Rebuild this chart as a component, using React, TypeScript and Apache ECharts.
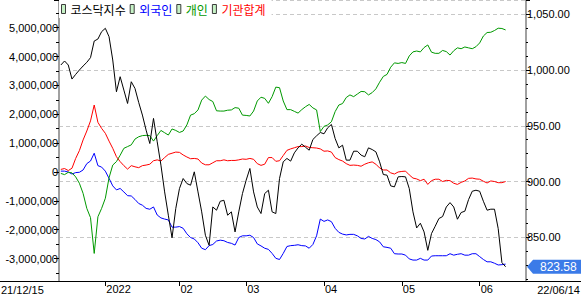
import React, { useEffect, useRef } from "react";
import * as echarts from "echarts";

// Trading days (KRX) from 2021-12-15 to 2022-06-14
const DEC_2021 = [15, 16, 17, 20, 21, 22, 23, 24, 27, 28, 29, 30];
const JAN_2022 = [3, 4, 5, 6, 7, 10, 11, 12, 13, 14, 17, 18, 19, 20, 21, 24, 25, 26, 27, 28];
const FEB_2022 = [3, 4, 7, 8, 9, 10, 11, 14, 15, 16, 17, 18, 21, 22, 23, 24, 25, 28];
const MAR_2022 = [2, 3, 4, 7, 8, 10, 11, 14, 15, 16, 17, 18, 21, 22, 23, 24, 25, 28, 29, 30, 31];
const APR_2022 = [1, 4, 5, 6, 7, 8, 11, 12, 13, 14, 15, 18, 19, 20, 21, 22, 25, 26, 27, 28, 29];
const MAY_2022 = [2, 3, 4, 6, 9, 10, 11, 12, 13, 16, 17, 18, 19, 20, 23, 24, 25, 26, 27, 30, 31];
const JUN_2022 = [2, 3, 7, 8, 9, 10, 13, 14];

const two = (n: number) => String(n).padStart(2, "0");
const dates: string[] = [
  ...DEC_2021.map((d) => `21/12/${two(d)}`),
  ...JAN_2022.map((d) => `22/01/${two(d)}`),
  ...FEB_2022.map((d) => `22/02/${two(d)}`),
  ...MAR_2022.map((d) => `22/03/${two(d)}`),
  ...APR_2022.map((d) => `22/04/${two(d)}`),
  ...MAY_2022.map((d) => `22/05/${two(d)}`),
  ...JUN_2022.map((d) => `22/06/${two(d)}`),
];

// Month tick labels on the time axis
const monthTickDates = ["22/01/03", "22/02/03", "22/03/02", "22/04/01", "22/05/02", "22/06/02"];
const monthTickLabels = ["2022", "02", "03", "04", "05", "06"];

// Legend / series names
const NAME_KOSDAQ = "코스닥지수";
const NAME_FOREIGN = "외국인";
const NAME_INDIVIDUAL = "개인";
const NAME_INSTITUTION = "기관합계";

// KOSDAQ index (right axis)
const kosdaq = [
  1004.5, 1008.1, 1004.5, 991.9, 996.1, 1000.0, 1003.6, 1006.9, 1011.1, 1026.0,
  1027.8, 1034.4, 1037.4, 1029.9, 1009.0, 980.5, 994.0, 982.0, 970.0, 989.5,
  983.5, 971.0, 959.6, 946.1, 934.1, 956.6, 935.6, 914.7, 890.7, 869.8,
  849.6, 875.7, 893.7, 902.7, 898.2, 896.7, 908.7, 890.7, 872.8, 851.8,
  842.8, 877.2, 874.3, 882.3, 883.2, 869.8, 872.8, 854.8, 872.8, 889.2,
  901.2, 911.7, 890.7, 877.2, 871.3, 889.2, 892.2, 872.8, 871.3, 902.7,
  917.7, 920.7, 918.3, 925.7, 930.2, 933.5, 930.8, 928.1, 937.7, 941.0,
  944.0, 942.8, 948.2, 951.2, 938.6, 930.2, 932.6, 919.2, 919.2, 927.2,
  927.2, 923.7, 922.2, 930.2, 928.7, 926.6, 917.7, 906.3, 905.7, 896.1,
  895.2, 904.2, 904.5, 904.2, 893.7, 872.8, 858.4, 862.6, 854.8, 838.3,
  853.3, 859.9, 866.8, 868.6, 877.2, 881.1, 877.2, 866.2, 872.2, 873.4,
  883.8, 891.3, 892.2, 891.3, 882.3, 874.3, 875.2, 875.2, 857.8, 827.3, 823.58,
];

// Cumulative net buying (left axis)
const foreign = [
  30000, 30000, 0, -70000, -20000, -10000, 70000, 290000, 380000, 650000,
  220000, 170000, 30000, -220000, -480000, -620000, -570000, -690000, -820000, -830000,
  -950000, -1090000, -1150000, -1260000, -1290000, -1210000, -1490000, -1590000, -1630000, -1660000,
  -1910000, -1910000, -1890000, -1950000, -2140000, -2270000, -2320000, -2450000, -2640000, -2690000,
  -2550000, -2510000, -2390000, -2360000, -2380000, -2440000, -2470000, -2530000, -2270000, -2210000,
  -2210000, -2190000, -2270000, -2490000, -2560000, -2640000, -2680000, -2820000, -2990000, -3030000,
  -2820000, -2580000, -2550000, -2540000, -2520000, -2550000, -2560000, -2640000, -2510000, -2210000,
  -1630000, -1710000, -1660000, -1720000, -1950000, -2090000, -2150000, -2180000, -2160000, -2160000,
  -2210000, -2300000, -2320000, -2230000, -2300000, -2340000, -2420000, -2590000, -2610000, -2640000,
  -2830000, -2840000, -2840000, -2880000, -3010000, -3050000, -3050000, -2990000, -3050000, -3050000,
  -2910000, -2900000, -2900000, -2900000, -2900000, -2830000, -2880000, -2850000, -2830000, -2880000,
  -2880000, -2830000, -2830000, -2930000, -3030000, -3110000, -3110000, -3160000, -3220000, -3210000, -3190000,
];

const individual = [
  -50000, -90000, -10000, -30000, -170000, -390000, -740000, -1260000, -1580000, -2820000,
  -1550000, -1260000, -910000, -200000, 240000, 360000, 580000, 820000, 880000, 940000,
  1140000, 1220000, 1260000, 1270000, 1260000, 1070000, 1260000, 1440000, 1360000, 1280000,
  1490000, 1440000, 1370000, 1420000, 1630000, 1970000, 2020000, 2150000, 2490000, 2630000,
  2510000, 2440000, 2120000, 2110000, 2110000, 2140000, 2150000, 2230000, 2210000, 1970000,
  1960000, 1940000, 2110000, 2460000, 2590000, 2550000, 2380000, 2610000, 2940000, 2920000,
  2460000, 2160000, 2160000, 2100000, 2040000, 2160000, 2260000, 2340000, 2220000, 2150000,
  1400000, 1580000, 1630000, 1740000, 2090000, 2320000, 2370000, 2580000, 2670000, 2610000,
  2700000, 2790000, 2780000, 2670000, 2750000, 2880000, 3110000, 3310000, 3380000, 3630000,
  3780000, 3760000, 3790000, 3760000, 4020000, 4160000, 4190000, 4160000, 4310000, 4400000,
  4150000, 4110000, 4110000, 4210000, 4170000, 4050000, 4200000, 4300000, 4270000, 4330000,
  4300000, 4270000, 4340000, 4470000, 4710000, 4830000, 4840000, 4900000, 4980000, 4970000, 4920000,
];

const institution = [
  90000, 120000, 50000, 130000, 470000, 740000, 1110000, 1420000, 1770000, 2320000,
  1720000, 1510000, 1340000, 1070000, 820000, 530000, 360000, 220000, 100000, 220000,
  180000, 150000, 220000, 240000, 270000, 390000, 420000, 380000, 500000, 610000,
  650000, 690000, 680000, 590000, 520000, 460000, 470000, 450000, 310000, 250000,
  250000, 320000, 390000, 390000, 420000, 390000, 400000, 400000, 420000, 450000,
  440000, 470000, 440000, 290000, 230000, 270000, 500000, 500000, 370000, 390000,
  570000, 750000, 800000, 840000, 880000, 880000, 900000, 850000, 840000, 830000,
  800000, 720000, 730000, 690000, 500000, 430000, 380000, 290000, 230000, 240000,
  230000, 200000, 270000, 320000, 350000, 270000, 140000, 70000, 70000, -30000,
  -70000, 0, 20000, 30000, -100000, -210000, -240000, -300000, -250000, -430000,
  -300000, -250000, -250000, -330000, -290000, -300000, -390000, -430000, -360000, -310000,
  -220000, -210000, -240000, -250000, -320000, -380000, -310000, -330000, -370000, -370000, -330000,
];

// Axis extents (visible range of the plot)
const LEFT_MIN = -3775000;
const LEFT_MAX = 5957000;
const RIGHT_MIN = 810.8;
const RIGHT_MAX = 1062.8;
const EMPTY_SLOTS = 5;

const FONT = "'Liberation Sans', Arial, sans-serif";
const KFONT = "'Noto Sans CJK KR', 'Noto Sans', sans-serif";

const COLORS = {
  kosdaq: "#000000",
  foreign: "#0000ff",
  individual: "#009900",
  institution: "#ff0000",
};

export default function App() {
  const ref = useRef<HTMLDivElement>(null);

  useEffect(() => {
    if (!ref.current) return;
    const chart = echarts.init(ref.current, undefined, { renderer: "svg" });

    const categories = [
      ...dates,
      ...Array.from({ length: EMPTY_SLOTS }, (_, k) => `__pad${k}`),
    ];
    const monthLabel: Record<string, string> = {};
    monthTickDates.forEach((d, i) => (monthLabel[d] = monthTickLabels[i]));
    const isMonthStart = (_: number, v: string) => v in monthLabel;

    const legendItem = (name: string, color: string) => ({
      name,
      itemStyle: { color: "#c6f2c6", borderColor: "#3c3c3c", borderWidth: 1 },
      textStyle: { color },
    });

    const lineSeries = (name: string, data: number[], color: string, yAxisIndex: number) => ({
      name,
      type: "line",
      yAxisIndex,
      data,
      symbol: "none",
      showSymbol: false,
      lineStyle: { color, width: 1 },
      itemStyle: { color },
      emphasis: { disabled: true },
    });

    chart.setOption({
      animation: false,
      backgroundColor: "#ffffff",
      textStyle: { fontFamily: FONT },
      grid: { left: 59, right: 55, top: 0, bottom: 15, containLabel: false },
      legend: {
        left: 59,
        top: 0,
        padding: [3, 6, 3, 2],
        backgroundColor: "#ffffff",
        itemWidth: 4,
        itemHeight: 9,
        itemGap: 4,
        icon: "rect",
        selectedMode: false,
        textStyle: { fontFamily: KFONT, fontSize: 12 },
        data: [
          legendItem(NAME_KOSDAQ, COLORS.kosdaq),
          legendItem(NAME_FOREIGN, COLORS.foreign),
          legendItem(NAME_INDIVIDUAL, COLORS.individual),
          legendItem(NAME_INSTITUTION, COLORS.institution),
        ],
      },
      xAxis: {
        type: "category",
        data: categories,
        boundaryGap: true,
        axisLine: { show: true, onZero: false, lineStyle: { color: "#000000", width: 1 } },
        axisTick: {
          show: true,
          alignWithLabel: true,
          length: 5,
          interval: isMonthStart,
          lineStyle: { color: "#000000" },
        },
        axisLabel: {
          interval: isMonthStart,
          formatter: (v: string) => monthLabel[v] ?? "",
          align: "left",
          margin: 2,
          padding: [0, 0, 0, 1],
          color: "#000000",
          fontSize: 11,
          fontFamily: FONT,
        },
        splitLine: { show: false },
      },
      yAxis: [
        {
          type: "value",
          position: "left",
          min: LEFT_MIN,
          max: LEFT_MAX,
          splitNumber: 10,
          axisLine: { show: true, lineStyle: { color: "#a0a0a0", width: 2 } },
          axisTick: { show: true, length: 5, lineStyle: { color: "#000000" } },
          minorTick: { show: true, splitNumber: 2, length: 3, lineStyle: { color: "#000000" } },
          axisLabel: {
            formatter: (v: number) => v.toLocaleString("en-US"),
            showMinLabel: false,
            showMaxLabel: false,
            margin: 1,
            color: "#000000",
            fontSize: 11,
            fontFamily: FONT,
          },
          splitLine: { show: false },
        },
        {
          type: "value",
          position: "right",
          min: RIGHT_MIN,
          max: RIGHT_MAX,
          splitNumber: 5,
          axisLine: { show: true, lineStyle: { color: "#a0a0a0", width: 2 } },
          axisTick: { show: true, length: 4, lineStyle: { color: "#000000" } },
          minorTick: { show: true, splitNumber: 4, length: 2, lineStyle: { color: "#000000" } },
          axisLabel: {
            formatter: (v: number) =>
              v.toLocaleString("en-US", { minimumFractionDigits: 2, maximumFractionDigits: 2 }),
            showMinLabel: false,
            showMaxLabel: false,
            margin: 1,
            color: "#000000",
            fontSize: 11,
            fontFamily: FONT,
          },
          splitLine: { show: true, lineStyle: { color: "#c8c8c8", type: [4, 3], width: 1 } },
        },
      ],
      series: [
        lineSeries(NAME_FOREIGN, foreign, COLORS.foreign, 0),
        lineSeries(NAME_INDIVIDUAL, individual, COLORS.individual, 0),
        lineSeries(NAME_INSTITUTION, institution, COLORS.institution, 0),
        lineSeries(NAME_KOSDAQ, kosdaq, COLORS.kosdaq, 1),
      ],
    });

    // Last-value badge on the right axis and edge date labels
    const last = kosdaq[kosdaq.length - 1];
    const yLast = chart.convertToPixel({ yAxisIndex: 1 }, last) as number;
    const axisX = chart.getWidth() - 55;
    const bottomY = chart.getHeight() - 15;
    chart.setOption({
      graphic: [
        {
          type: "line",
          shape: { x1: 0, y1: bottomY + 0.5, x2: chart.getWidth(), y2: bottomY + 0.5 },
          style: { stroke: "#000000", lineWidth: 1 },
          z: 10,
        },
        {
          type: "group",
          x: axisX + 1,
          y: yLast,
          z: 20,
          children: [
            {
              type: "polygon",
              shape: { points: [[0, 0], [6, -7], [54, -7], [54, 7], [6, 7]] },
              style: { fill: "#3b7be8" },
            },
            {
              type: "text",
              x: 13,
              y: 0,
              style: {
                text: last.toFixed(2),
                fill: "#ffffff",
                font: `12px ${FONT}`,
                verticalAlign: "middle",
              },
            },
          ],
        },
        {
          type: "text",
          x: 1,
          y: bottomY + 3,
          style: { text: dates[0], fill: "#000000", font: `11px ${FONT}`, verticalAlign: "top" },
        },
        {
          type: "text",
          x: chart.getWidth() - 1,
          y: bottomY + 3,
          style: {
            text: dates[dates.length - 1],
            fill: "#000000",
            font: `11px ${FONT}`,
            align: "right",
            verticalAlign: "top",
          },
        },
      ],
    });

    return () => chart.dispose();
  }, []);

  return (
    <div
      ref={ref}
      style={{ position: "fixed", left: 0, top: 0, width: 581, height: 296, background: "#fff" }}
    />
  );
}
